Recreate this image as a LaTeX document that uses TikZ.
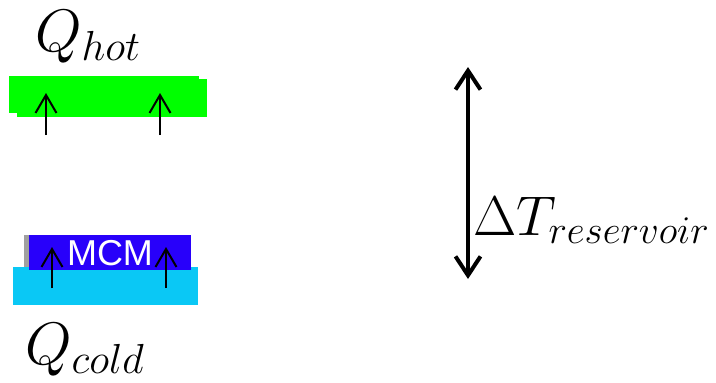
\RequirePackage{fix-cm}
\documentclass[tikz,border=0pt]{standalone}
\usepackage{amsmath}
\usepackage{fontspec}
\newfontfamily\mcmfont{Liberation Sans}
\usetikzlibrary{arrows.meta}

\definecolor{hotgreen}{RGB}{0,255,0}
\definecolor{mcmblue}{RGB}{40,0,250}
\definecolor{coldcyan}{RGB}{10,200,245}
\definecolor{edgegray}{RGB}{160,160,160}

\tikzset{
  flux/.style={line width=2pt, -{Straight Barb[length=18pt,width=21pt,line width=2pt]}},
  span/.style={line width=4pt, {Straight Barb[length=19pt,width=25pt,line width=4pt]}-{Straight Barb[length=19pt,width=25pt,line width=4pt]}},
  bigmath/.style={inner sep=0pt, anchor=base west, font=\fontsize{60}{60}\selectfont}
}

\begin{document}
\begin{tikzpicture}[x=1pt,y=-1pt]
        \useasboundingbox (0,0) rectangle (716,383);

        % hot reservoir
        \fill[hotgreen] (9,76) rectangle (199,113);
        \fill[hotgreen] (17,79) rectangle (207,117);
        \node[bigmath] (qhot) at (35,51) {$Q_{hot}$};
        \coordinate (h1s) at (46,135); \coordinate (h1e) at (46,93);
        \coordinate (h2s) at (160,135); \coordinate (h2e) at (160,93);
        \draw[flux] (h1s) -- (h1e);
        \draw[flux] (h2s) -- (h2e);

        % cold reservoir with MCM
        \fill[edgegray] (24,235) rectangle (29,267);
        \fill[coldcyan] (13,267) rectangle (198,305);
        \fill[mcmblue] (29,235) rectangle (191,270);
        \node[inner sep=0pt, anchor=base, text=white, font=\mcmfont\fontsize{36}{36}\selectfont] (mcm) at (110,265) {MCM};
        \node[bigmath] (qcold) at (25,364) {$Q_{cold}$};
        \coordinate (c1s) at (52,288); \coordinate (c1e) at (52,247);
        \coordinate (c2s) at (166,288); \coordinate (c2e) at (166,247);
        \draw[flux] (c1s) -- (c1e);
        \draw[flux] (c2s) -- (c2e);

        % temperature span
        \coordinate (top) at (468,67);
        \coordinate (bot) at (468,279);
        \draw[span] (bot) -- (top);
        \node[bigmath, font=\fontsize{56}{56}\selectfont] (dt) at (473,235) {$\Delta T_{reservoir}$};
\end{tikzpicture}
\end{document}
